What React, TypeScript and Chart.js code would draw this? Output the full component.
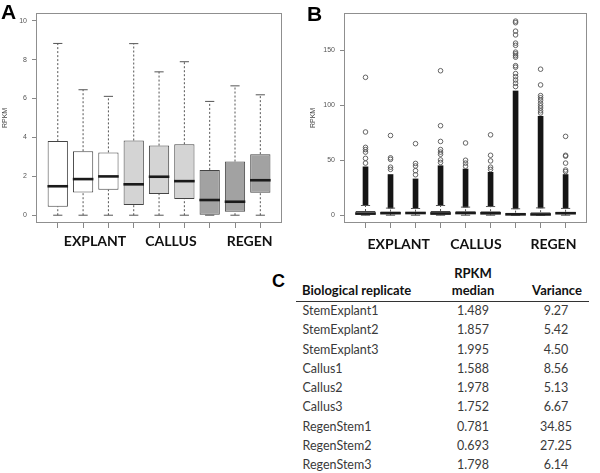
import React, { useEffect, useRef } from "react";
import { Chart, registerables } from "chart.js";
Chart.register(...registerables);

// ---------- data ----------
const groupLabels = ["EXPLANT", "CALLUS", "REGEN"];
const replicateNames = [
  "StemExplant1", "StemExplant2", "StemExplant3",
  "Callus1", "Callus2", "Callus3",
  "RegenStem1", "RegenStem2", "RegenStem3",
];
const boxPositions = [1, 2, 3, 4, 5, 6, 7, 8, 9];
const whiskerLow = [0, 0, 0, 0, 0, 0, 0, 0, 0];
const quartile1 = [0.44, 1.17, 1.31, 0.52, 1.09, 0.83, 0.0, 0.18, 1.15];
const medians = [1.489, 1.857, 1.995, 1.588, 1.978, 1.752, 0.781, 0.693, 1.798];
const quartile3 = [3.81, 3.29, 3.23, 3.84, 3.58, 3.65, 2.33, 2.76, 3.14];
const whiskerHigh = [8.83, 6.45, 6.11, 8.82, 7.37, 7.89, 5.85, 6.65, 6.19];
const medianText = ["1.489", "1.857", "1.995", "1.588", "1.978", "1.752", "0.781", "0.693", "1.798"];
const varianceText = ["9.27", "5.42", "4.50", "8.56", "5.13", "6.67", "34.85", "27.25", "6.14"];
const yTicksA = [0, 2, 4, 6, 8, 10];
const yTicksB = [0, 50, 100, 150];
// Panel B: upper limit of the solid run of overlapping outliers
const denseTopB = [44, 37, 33, 45, 42, 39, 113, 90, 37];
// Panel B: individually visible outliers
const outliersB = [
  [125.4, 75.7, 61.7, 59.7, 57.4, 51.7, 47.4],
  [72.5, 52.2, 50.8, 43.7, 41.7],
  [65.1, 47.1, 44.8, 40.5, 36.8],
  [131.4, 81.4, 67.1, 59.7, 57.4, 55.4, 50.3, 48.0],
  [65.7, 50.0, 47.4, 44.6],
  [73.1, 54.5, 49.4, 43.7, 41.7],
  [176.5, 175.1, 167.4, 164.0, 156.5, 154.5, 148.3, 146.8, 145.1, 143.7, 136.0, 134.6, 128.8, 126.0, 123.0, 120.0, 117.0],
  [132.8, 118.5, 108.8, 106.8, 104.6, 101.8, 99.5, 97.5, 95.0, 93.0],
  [71.7, 54.5, 53.7, 47.4, 41.1, 39.7],
];

// ---------- styles ----------
const boxColors = ["#ffffff", "#ffffff", "#ffffff", "#d4d4d4", "#d4d4d4", "#d4d4d4", "#a2a2a2", "#a2a2a2", "#a2a2a2"];
const AXIS_FONT = "'Liberation Sans', Arial, sans-serif";
const TEXT_FONT = "Lato, 'Open Sans', sans-serif";

const framePlugin = {
  id: "frame",
  afterDraw(chart: any) {
    const { ctx, chartArea: a } = chart;
    ctx.save();
    ctx.strokeStyle = "#8f8f8f";
    ctx.lineWidth = 1;
    ctx.strokeRect(Math.round(a.left) + 0.5, Math.round(a.top) + 0.5, Math.round(a.right - a.left) - 1, Math.round(a.bottom - a.top) - 1);
    ctx.restore();
  },
};

type BoxProps = {
  left: number; width: number; height: number;
  yMin: number; yMax: number; yTicks: number[];
  axisWidth: number; padRight: number; titlePad: number;
  withOutliers: boolean;
};

function BoxChart(p: BoxProps) {
  const ref = useRef<HTMLCanvasElement>(null);
  useEffect(() => {
    const pts = (vals: number[]) => vals.map((v, i) => ({ x: boxPositions[i], y: v }));
    const whiskerData: any[] = [];
    boxPositions.forEach((x, i) => {
      whiskerData.push({ x, y: quartile3[i] }, { x, y: whiskerHigh[i] }, { x, y: null });
      whiskerData.push({ x, y: whiskerLow[i] }, { x, y: quartile1[i] }, { x, y: null });
    });
    const datasets: any[] = [
      {
        type: "line", order: 6, data: whiskerData, borderColor: "#555", borderWidth: 1,
        borderDash: [2, 2], pointRadius: 0, spanGaps: false, fill: false,
      },
      {
        type: "bar", order: 3, grouped: false,
        data: boxPositions.map((x, i) => ({ x, y: [quartile1[i], quartile3[i]] })),
        backgroundColor: boxColors, borderColor: "#444", borderWidth: 1, borderSkipped: false,
        barPercentage: 1, categoryPercentage: 0.8,
      },
      {
        type: "scatter", order: 2, data: [...pts(whiskerHigh), ...pts(whiskerLow)],
        pointStyle: "line", pointRadius: 4.6, pointBorderWidth: 1, pointBorderColor: "#555",
      },
      {
        type: "scatter", order: 1, data: pts(medians),
        pointStyle: "line", pointRadius: 10.3, pointBorderWidth: 2.6, pointBorderColor: "#1a1a1a",
      },
    ];
    if (p.withOutliers) {
      datasets.push({
        type: "bar", order: 5, grouped: false,
        data: boxPositions.map((x, i) => ({ x, y: [whiskerHigh[i], denseTopB[i]] })),
        backgroundColor: "#151515", borderWidth: 0, barThickness: 5,
      });
      datasets.push({
        type: "scatter", order: 4,
        data: outliersB.flatMap((arr, i) => arr.map((v) => ({ x: boxPositions[i], y: v }))),
        pointStyle: "circle", pointRadius: 2.3, pointBorderWidth: 0.9,
        pointBorderColor: "#555", pointBackgroundColor: "rgba(0,0,0,0)",
      });
    }
    const chart = new Chart(ref.current!, {
      type: "bar",
      data: { datasets },
      options: {
        animation: false,
        responsive: false,
        devicePixelRatio: 1,
        layout: { padding: { top: 1, right: p.padRight, left: 0, bottom: 0 } },
        plugins: { legend: { display: false }, tooltip: { enabled: false } },
        scales: {
          x: {
            type: "linear", min: 0.14, max: 9.86, offset: false,
            afterBuildTicks: (s: any) => { s.ticks = boxPositions.map((v) => ({ value: v })); },
            afterFit: (s: any) => { s.height = 17; },
            ticks: { display: false },
            grid: { drawOnChartArea: false, drawTicks: true, tickLength: 5, color: "#888", offset: false },
            border: { display: false },
          },
          y: {
            type: "linear", min: p.yMin, max: p.yMax,
            afterBuildTicks: (s: any) => { s.ticks = p.yTicks.map((v) => ({ value: v })); },
            afterFit: (s: any) => { s.width = p.axisWidth; },
            ticks: { font: { size: 7, family: AXIS_FONT }, color: "#555", padding: 5 },
            grid: { drawOnChartArea: false, drawTicks: true, tickLength: 4, color: "#888" },
            border: { display: false },
            title: {
              display: true, text: "RPKM", color: "#444",
              font: { size: 7, family: AXIS_FONT }, padding: { top: p.titlePad, bottom: 0 },
            },
          },
        },
      } as any,
      plugins: [framePlugin],
    });
    return () => chart.destroy();
  }, []);
  return (
    <canvas
      ref={ref}
      width={p.width}
      height={p.height}
      style={{ position: "absolute", left: p.left, top: 0, width: p.width, height: p.height }}
    />
  );
}

const Txt = (props: { x: number; y: number; text: string; size: number; bold?: boolean; align?: "left" | "center"; color?: string; family?: string }) => (
  <div
    style={{
      position: "absolute", left: props.x, top: props.y, whiteSpace: "nowrap", lineHeight: 1,
      transform: props.align === "left" ? "translate(0,-50%)" : "translate(-50%,-50%)",
      fontSize: props.size, fontWeight: props.bold ? 700 : 400, color: props.color || "#111",
      fontFamily: props.family || TEXT_FONT,
    }}
  >
    {props.text}
  </div>
);

const labelXA = [95, 171, 249.7];
const labelXB = [398.7, 476, 553.5];

export default function App() {
  return (
    <div style={{ position: "absolute", left: 0, top: 0, width: 600, height: 473, background: "#fff", overflow: "hidden" }}>
      <BoxChart left={0} width={295} height={240} yMin={-0.4} yMax={10.4} yTicks={yTicksA} axisWidth={36} padRight={9} titlePad={1} withOutliers={false} />
      <BoxChart left={295} width={305} height={240} yMin={-7.08} yMax={184} yTicks={yTicksB} axisWidth={49} padRight={3} titlePad={14} withOutliers={true} />
      <Txt x={1} y={11} text="A" size={21} bold align="left" family={AXIS_FONT} color="#000" />
      <Txt x={307} y={13} text="B" size={21} bold align="left" family={AXIS_FONT} color="#000" />
      {groupLabels.map((g, i) => <Txt key={"a" + g} x={labelXA[i]} y={241} text={g} size={14} bold />)}
      {groupLabels.map((g, i) => <Txt key={"b" + g} x={labelXB[i]} y={243.5} text={g} size={14} bold />)}
      <Txt x={272} y={281} text="C" size={18} bold align="left" family={AXIS_FONT} color="#000" />
      <Txt x={302} y={290} text="Biological replicate" size={13} bold align="left" />
      <Txt x={473} y={272.5} text="RPKM" size={13} bold />
      <Txt x={473} y={290} text="median" size={13} bold />
      <Txt x={557} y={290} text="Variance" size={13} bold />
      <div style={{ position: "absolute", left: 296, top: 301, width: 293, height: 1, background: "#333" }} />
      {replicateNames.map((n, i) => (
        <React.Fragment key={n}>
          <Txt x={302.5} y={311 + 19.25 * i} text={n} size={12.5} align="left" color="#3a3a3a" />
          <Txt x={473} y={311 + 19.25 * i} text={medianText[i]} size={12.5} color="#3a3a3a" />
          <Txt x={556} y={311 + 19.25 * i} text={varianceText[i]} size={12.5} color="#3a3a3a" />
        </React.Fragment>
      ))}
    </div>
  );
}
